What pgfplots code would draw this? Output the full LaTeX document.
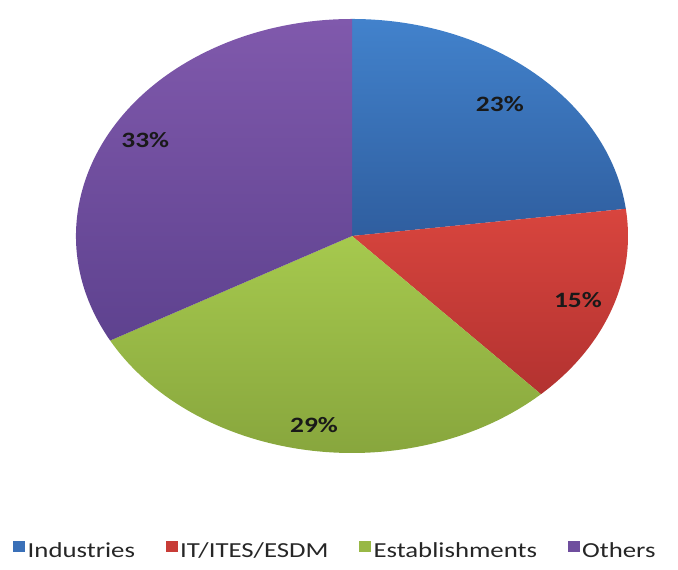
\documentclass[border=0pt]{standalone}
\usepackage{pgfplots}
\usepackage{pgfplotstable}
\pgfplotsset{compat=1.18}
\usepackage{fontspec}
\setmainfont{Carlito}[FakeStretch=1.25]
\definecolor{ct0}{HTML}{4282CC}\definecolor{cd0}{HTML}{2F5E9F}\definecolor{cb0}{HTML}{3A70B8}
\definecolor{ct1}{HTML}{D8453E}\definecolor{cd1}{HTML}{B33230}\definecolor{cb1}{HTML}{C83C37}
\definecolor{ct2}{HTML}{A6C94E}\definecolor{cd2}{HTML}{86A43C}\definecolor{cb2}{HTML}{98B846}
\definecolor{ct3}{HTML}{8059AC}\definecolor{cd3}{HTML}{5E428F}\definecolor{cb3}{HTML}{6F4E9E}
\pgfplotstableread{
label value lr
Industries 23 0.81
IT/ITES/ESDM 15 0.87
Establishments 29 0.88
Others 33 0.87
}\piedata
\begin{document}
\begin{tikzpicture}
\begin{axis}[x=1bp,y=1bp,xmin=0,xmax=678,ymin=0,ymax=570,hide axis,clip=false,
  legend columns=4,
  legend image code/.code={\fill[#1,draw=none] (0bp,-1bp) rectangle (12bp,10.5bp);},
  legend style={draw=none,fill=none,at={(axis cs:13,19)},anchor=west,
   font=\fontsize{21.5}{22}\selectfont, text=black!85,
   nodes={inner xsep=2.5bp},
   /tikz/column 2/.style={column sep=28bp},
   /tikz/column 4/.style={column sep=28bp},
   /tikz/column 6/.style={column sep=28bp},
   inner sep=0pt}]
\path (axis cs:0,0) rectangle (axis cs:678,570);
\def\cum{0}
\pgfplotsforeachungrouped \i in {0,1,2,3}{%
  \pgfplotstablegetelem{\i}{value}\of\piedata \let\v\pgfplotsretval
  \pgfplotstablegetelem{\i}{label}\of\piedata \let\lab\pgfplotsretval
  \pgfplotstablegetelem{\i}{lr}\of\piedata \let\lr\pgfplotsretval
  \pgfmathsetmacro\angA{90-3.6*\cum}%
  \pgfmathsetmacro\angB{90-3.6*(\cum+\v)}%
  \pgfmathsetmacro\angM{(\angA+\angB)/2}%
  \pgfmathsetmacro\rxl{276*\lr}%
  \pgfmathsetmacro\ryl{217*\lr}%
  \edef\temp{%
   \noexpand\shade[top color=ct\i,bottom color=cd\i] (axis cs:352,334) -- ++(\angA:276bp and 217bp) arc[start angle=\angA,end angle=\angB,x radius=276bp,y radius=217bp] -- cycle;
   \noexpand\node[font=\noexpand\fontsize{22}{23}\noexpand\selectfont\noexpand\bfseries, text=black!90] at ([shift={(\angM:\rxl bp and \ryl bp)}]axis cs:352,334) {\v\noexpand\%};
   \noexpand\addlegendimage{fill=cb\i}
   \noexpand\addlegendentry{\lab}
  }\temp
  \pgfmathsetmacro\cum{\cum+\v}%
}
\end{axis}
\end{tikzpicture}
\end{document}
